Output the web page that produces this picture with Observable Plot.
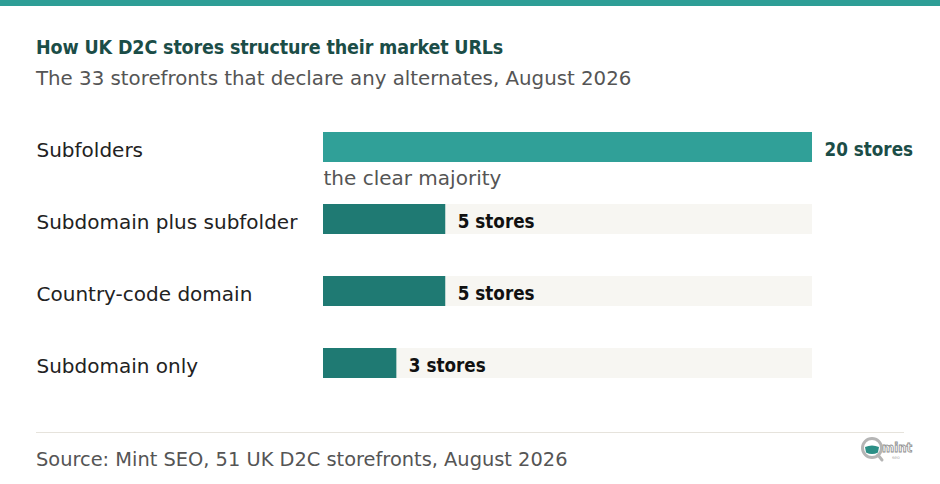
<!DOCTYPE html>
<html>
<head>
<meta charset="utf-8">
<script src="https://cdn.jsdelivr.net/npm/d3@7"></script>
<script src="https://cdn.jsdelivr.net/npm/@observablehq/plot@0.6"></script>
<style>
  html, body { margin: 0; padding: 0; background: #fff; }
  #wrap { position: relative; width: 940px; height: 484px; overflow: hidden; background: #fff; font-family: "DejaVu Sans", sans-serif; }
  #topbar { position: absolute; left: 0; top: 0; width: 940px; height: 6px; background: #2e9e96; }
  #chart { position: absolute; left: 0; top: 0; }
  .t { position: absolute; left: 36px; white-space: nowrap; line-height: 1; }
  #title { top: 38px; font-size: 19.5px; font-weight: 700; color: #1b4d47; font-family: "DejaVu Sans Condensed", "DejaVu Sans", sans-serif; font-stretch: condensed; letter-spacing: -0.15px; }
  #subtitle { top: 69px; font-size: 19.8px; color: #555; }
  #rule { position: absolute; left: 36px; top: 432px; width: 868px; height: 1px; background: #e6e3dc; }
  #source { top: 450px; font-size: 19.4px; color: #555; }
  #logo { position: absolute; left: 858px; top: 434px; }
</style>
</head>
<body>
<div id="wrap">
  <div id="chart"></div>
  <div id="topbar"></div>
  <div class="t" id="title">How UK D2C stores structure their market URLs</div>
  <div class="t" id="subtitle">The 33 storefronts that declare any alternates, August 2026</div>
  <div id="rule"></div>
  <div class="t" id="source">Source: Mint SEO, 51 UK D2C storefronts, August 2026</div>
  <svg id="logo" width="56" height="32" viewBox="0 0 56 32">
    <circle cx="14" cy="14" r="9.5" fill="#fff" stroke="#b5b5b5" stroke-width="3"/>
    <path d="M7 13 Q14 10 21 13 L20 18.5 Q14 21.5 8 18.5 Z" fill="#2b8f86"/>
    <line x1="20" y1="21" x2="24" y2="26" stroke="#b5b5b5" stroke-width="3" stroke-linecap="round"/>
    <text x="24" y="18" font-family="DejaVu Sans Condensed, DejaVu Sans" font-weight="700" font-size="13" fill="#fff" stroke="#8f8f8f" stroke-width="0.8">mint</text>
    <text x="34" y="25" font-family="DejaVu Sans" font-size="4.5" fill="#aaa">seo</text>
  </svg>
</div>
<script>
const categories = ["Subfolders", "Subdomain plus subfolder", "Country-code domain", "Subdomain only"];
const stores = [20, 5, 5, 3];
const valueLabels = ["20 stores", "5 stores", "5 stores", "3 stores"];
const notes = ["the clear majority", "", "", ""];
const barColors = ["#30a098", "#1f7a73", "#1f7a73", "#1f7a73"];
const labelColors = ["#1b4d47", "#111111", "#111111", "#111111"];
const trackMax = 20;

const data = categories.map((c, i) => ({
  cat: c, value: stores[i], label: valueLabels[i], note: notes[i],
  bar: barColors[i], lab: labelColors[i]
}));

const chart = Plot.plot({
  width: 940,
  height: 484,
  marginLeft: 36,
  marginRight: 28,
  marginTop: 0,
  marginBottom: 0,
  style: { fontFamily: "DejaVu Sans, sans-serif", background: "transparent", overflow: "visible" },
  x: { domain: [0, trackMax], range: [323, 812], axis: null },
  y: { domain: categories, range: [90, 420], paddingInner: 0.583, paddingOuter: 0.583, axis: null },
  color: { type: "identity" },
  marks: [
    Plot.barX(data, { y: "cat", x1: 0, x2: trackMax, fill: "#f7f6f2" }),
    Plot.barX(data, { y: "cat", x: "value", fill: "bar" }),
    Plot.text(data, { y: "cat", frameAnchor: "left", text: "cat", textAnchor: "start", dy: 3, fontSize: 20, fill: "#222" }),
    Plot.text(data, { x: "value", y: "cat", text: "label", dx: 12, dy: 3, textAnchor: "start", fontSize: 18.7, fontWeight: 700, fill: "lab", fontFamily: "DejaVu Sans Condensed, DejaVu Sans, sans-serif", fontStretch: "condensed" }),
    Plot.text(data.filter(d => d.note), { x: 0, y: "cat", text: "note", dy: 31, textAnchor: "start", fontSize: 20, fill: "#555" })
  ]
});
document.getElementById("chart").appendChild(chart);
</script>
</body>
</html>
